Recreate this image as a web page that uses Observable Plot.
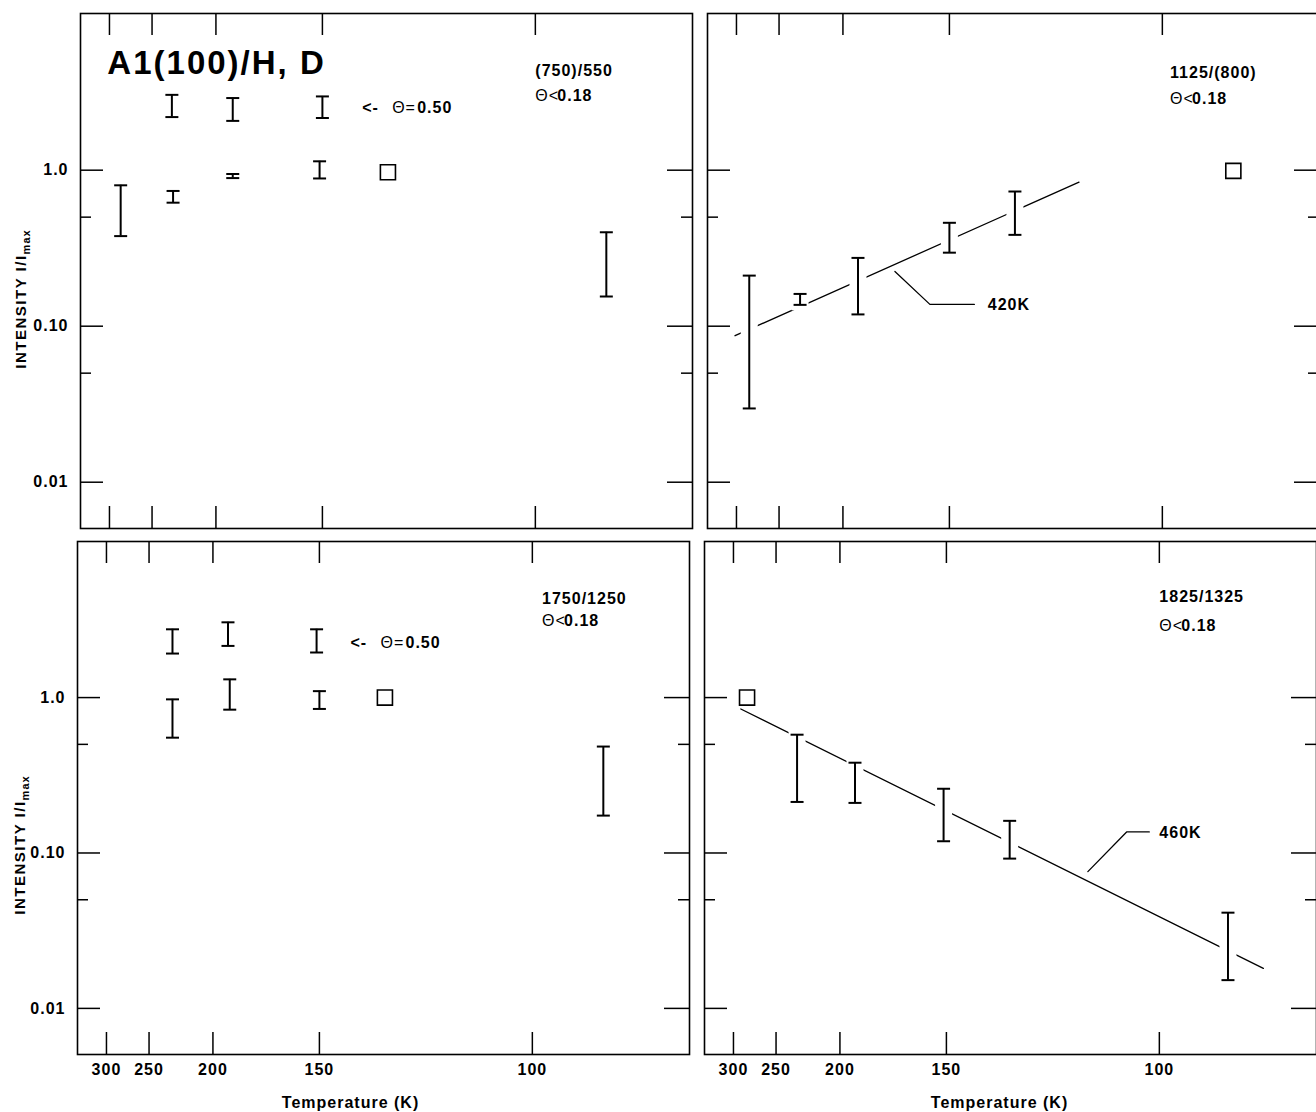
<!DOCTYPE html>
<html><head><meta charset="utf-8">
<script src="https://cdn.jsdelivr.net/npm/d3@7"></script>
<script src="https://cdn.jsdelivr.net/npm/@observablehq/plot@0.6"></script>
<style>
html,body{margin:0;padding:0;background:#fff;overflow:hidden;}
#fig{position:relative;width:1330px;height:1112px;background:#fff;}
#fig svg text{letter-spacing:1px;}
.ylab{position:absolute;transform:translate(-50%,-50%) rotate(-90deg);white-space:nowrap;font:bold 15px "Liberation Sans",Arial,sans-serif;letter-spacing:1.5px;color:#000;}
.ylab sub{font-size:11px;letter-spacing:1px;vertical-align:-4px;}
</style></head><body><div id="fig"></div>
<script>
// ---------- axes ----------
const xTicksK = [300, 250, 200, 150, 100];
const xTickLabels = ["300", "250", "200", "150", "100"];
const yMajor = [1, 0.1, 0.01];
const yMajorLabels = ["1.0", "0.10", "0.01"];
const yMinor = [0.5, 0.05];
const xTitle = "Temperature (K)";

// ---------- panel (750)/550 ----------
const a_theta050 = [{T:232, lo:2.19, hi:3.04}, {T:190, lo:2.07, hi:2.90}, {T:150, lo:2.16, hi:2.97}];
const a_theta018 = [{T:285, lo:0.378, hi:0.80}, {T:231, lo:0.619, hi:0.736}, {T:190, lo:0.89, hi:0.945}, {T:151, lo:0.885, hi:1.14}, {T:90, lo:0.155, hi:0.40}];
const a_ref = [{T:130, I:0.97}];
const a_title = [{T:303, I:4.84, text:"A1(100)/H, D"}];
const a_label = [{T:100, I:4.35, text:"(750)/550"}];
const a_cond = [{T:100, I:3.01}];
const a_arrow = [{T:137.2, I:2.52}];

// ---------- panel 1125/(800) ----------
const b_theta018 = [{T:283, lo:0.0297, hi:0.211}, {T:231, lo:0.137, hi:0.161}, {T:191, lo:0.119, hi:0.274}, {T:150, lo:0.296, hi:0.46}, {T:130, lo:0.385, hi:0.73}];
const b_ref = [{T:90, I:0.99}];
const b_fit = [{T:302, I:0.0869}, {T:115, I:0.838}];
const b_leader = [{T:172, I:0.224}, {T:157.2, I:0.138}, {T:141.7, I:0.138}];
const b_fitLabel = [{T:137.6, I:0.136, text:"420K"}];
const b_label = [{T:98.8, I:4.22, text:"1125/(800)"}];
const b_cond = [{T:98.8, I:2.85}];

// ---------- panel 1750/1250 ----------
const c_theta050 = [{T:229, lo:1.92, hi:2.75}, {T:191, lo:2.15, hi:3.05}, {T:151, lo:1.95, hi:2.75}];
const c_theta018 = [{T:229, lo:0.552, hi:0.974}, {T:190, lo:0.836, hi:1.31}, {T:150, lo:0.845, hi:1.10}, {T:90, lo:0.174, hi:0.484}];
const c_ref = [{T:130, I:1.0}];
const c_label = [{T:98.5, I:4.30, text:"1750/1250"}];
const c_cond = [{T:98.5, I:3.10}];
const c_arrow = [{T:139.8, I:2.26}];

// ---------- panel 1825/1325 ----------
const d_theta018 = [{T:231, lo:0.213, hi:0.577}, {T:191, lo:0.21, hi:0.381}, {T:151, lo:0.119, hi:0.259}, {T:130.6, lo:0.092, hi:0.161}, {T:90.3, lo:0.0152, hi:0.0413}];
const d_ref = [{T:282, I:1.0}];
const d_fit = [{T:290, I:0.844}, {T:86, I:0.0181}];
const d_leader = [{T:112.6, I:0.0759}, {T:105.4, I:0.1366}, {T:101.6, I:0.1366}];
const d_fitLabel = [{T:100, I:0.134, text:"460K"}];
const d_label = [{T:100, I:4.42, text:"1825/1325"}];
const d_cond = [{T:100, I:2.88}];

const condParts = ["\u0398<", "0.18"];
const arrowParts = ["<-", "\u0398=", "0.50"];

// ---------- drawing ----------
const X = d => 1000 / d.T;
const W = 612;
const xDomain = [2.88, 12.46];
const yDomain = [0.00505, 10.1];
const FONT = '"Liberation Sans", Arial, Helvetica, sans-serif';
const capSymbol = {draw(ctx, size) { const w = Math.sqrt(size / Math.PI); ctx.moveTo(-w, 0); ctx.lineTo(w, 0); }};

function makePanel(p) {
  const h = p.h;
  const xt = xTicksK.map(t => 1000 / t);
  const bars = p.bars;
  const marks = [];
  marks.push(Plot.frame({stroke: "black", strokeWidth: 1.6}));
  marks.push(Plot.tickX(xt, {x: d => d, insetBottom: h - 22, strokeWidth: 1.5}));
  marks.push(Plot.tickX(xt, {x: d => d, insetTop: h - 22, strokeWidth: 1.5}));
  marks.push(Plot.tickY(yMajor, {y: d => d, insetRight: W - 23, strokeWidth: 1.5}));
  marks.push(Plot.tickY(yMajor, {y: d => d, insetLeft: W - 25, strokeWidth: 1.5}));
  marks.push(Plot.tickY(yMinor, {y: d => d, insetRight: W - 11, strokeWidth: 1.5}));
  marks.push(Plot.tickY(yMinor, {y: d => d, insetLeft: W - 11, strokeWidth: 1.5}));
  if (p.fit) {
    marks.push(Plot.line(p.fit, {x: X, y: "I", stroke: "black", strokeWidth: 1.3}));
    marks.push(Plot.ruleX(bars, {x: X, y1: "hi", y2: "lo", stroke: "white", strokeWidth: 17, insetTop: -6, insetBottom: -6}));
    marks.push(Plot.line(p.leader, {x: X, y: "I", stroke: "black", strokeWidth: 1.3}));
    marks.push(Plot.text(p.fitLabel, {x: X, y: "I", text: "text", textAnchor: "start", lineAnchor: "middle", fontSize: 16, fontWeight: "bold"}));
  }
  marks.push(Plot.ruleX(bars, {x: X, y1: "lo", y2: "hi", stroke: "black", strokeWidth: 2}));
  marks.push(Plot.dot(bars, {x: X, y: "lo", symbol: capSymbol, r: 6.5, stroke: "black", strokeWidth: 2, fill: "none"}));
  marks.push(Plot.dot(bars, {x: X, y: "hi", symbol: capSymbol, r: 6.5, stroke: "black", strokeWidth: 2, fill: "none"}));
  marks.push(Plot.dot(p.ref, {x: X, y: "I", symbol: "square", r: 8.5, stroke: "black", strokeWidth: 1.6, fill: "white"}));
  if (p.title) marks.push(Plot.text(p.title, {x: X, y: "I", text: "text", textAnchor: "start", lineAnchor: "middle", fontSize: 33, fontWeight: "bold"}));
  marks.push(Plot.text(p.label, {x: X, y: "I", text: "text", textAnchor: "start", lineAnchor: "middle", fontSize: 16, fontWeight: "bold"}));
  marks.push(Plot.text(p.cond, {x: X, y: "I", text: () => condParts[0], textAnchor: "start", lineAnchor: "middle", fontSize: 16, fontWeight: "normal"}));
  marks.push(Plot.text(p.cond, {x: X, y: "I", text: () => condParts[1], dx: 22, textAnchor: "start", lineAnchor: "middle", fontSize: 16, fontWeight: "bold"}));
  if (p.arrow) {
    marks.push(Plot.text(p.arrow, {x: X, y: "I", text: () => arrowParts[0], textAnchor: "start", lineAnchor: "middle", fontSize: 16, fontWeight: "bold"}));
    marks.push(Plot.text(p.arrow, {x: X, y: "I", text: () => arrowParts[1], dx: 30, textAnchor: "start", lineAnchor: "middle", fontSize: 16, fontWeight: "normal"}));
    marks.push(Plot.text(p.arrow, {x: X, y: "I", text: () => arrowParts[2], dx: 55, textAnchor: "start", lineAnchor: "middle", fontSize: 16, fontWeight: "bold"}));
  }
  if (p.yLabels) {
    marks.push(Plot.axisY({anchor: "left", ticks: yMajor, tickFormat: d => yMajorLabels[yMajor.indexOf(d)], tickSize: 0, tickPadding: 12, fontSize: 16, fontWeight: "bold", label: null}));
  }
  if (p.xLabels) {
    marks.push(Plot.axisX({anchor: "bottom", ticks: xt, tickFormat: d => xTickLabels[xt.indexOf(d)], tickSize: 0, tickPadding: 9, fontSize: 16, fontWeight: "bold", label: null}));
    marks.push(Plot.text([xTitle], {text: d => d, frameAnchor: "bottom", dy: 48, dx: p.titleDx, lineAnchor: "middle", fontSize: 16, fontWeight: "bold"}));
  }
  const svg = Plot.plot({
    width: p.mL + W + p.mR, height: p.mT + h + p.mB,
    marginLeft: p.mL, marginRight: p.mR, marginTop: p.mT, marginBottom: p.mB,
    x: Object.assign({type: "linear", domain: xDomain}, p.xLabels ? {} : {axis: null}),
    y: Object.assign({type: "log", domain: yDomain}, p.yLabels ? {} : {axis: null}),
    style: {fontFamily: FONT, fontSize: "16px", fontWeight: "bold", background: "transparent", maxWidth: "none", overflow: "visible", color: "black"},
    marks
  });
  svg.style.position = "absolute";
  svg.style.left = p.left + "px";
  svg.style.top = p.top + "px";
  d3.select(svg).selectAll("text").filter(function() { return this.textContent === "A1(100)/H, D"; }).style("letter-spacing", "2px");
  document.getElementById("fig").appendChild(svg);
}

makePanel({h: 515, left: 0, top: 0, mL: 80, mT: 13, mR: 5, mB: 3, yLabels: true, xLabels: false,
  bars: [...a_theta050, ...a_theta018], ref: a_ref, title: a_title, label: a_label, cond: a_cond, arrow: a_arrow});
makePanel({h: 515, left: 699, top: 0, mL: 8, mT: 13, mR: 10, mB: 3, yLabels: false, xLabels: false,
  bars: b_theta018, ref: b_ref, fit: b_fit, leader: b_leader, fitLabel: b_fitLabel, label: b_label, cond: b_cond});
makePanel({h: 513, left: 0, top: 531, mL: 77, mT: 10, mR: 5, mB: 58, yLabels: true, xLabels: true, titleDx: -33,
  bars: [...c_theta050, ...c_theta018], ref: c_ref, label: c_label, cond: c_cond, arrow: c_arrow});
makePanel({h: 513, left: 696, top: 531, mL: 8, mT: 10, mR: 10, mB: 58, yLabels: false, xLabels: true, titleDx: -11,
  bars: d_theta018, ref: d_ref, fit: d_fit, leader: d_leader, fitLabel: d_fitLabel, label: d_label, cond: d_cond});

// y-axis titles (with subscript)
[[22, 299], [21, 845]].forEach(([x, y]) => {
  const div = document.createElement("div");
  div.className = "ylab";
  div.style.left = x + "px";
  div.style.top = y + "px";
  div.innerHTML = "INTENSITY I/I<sub>max</sub>";
  document.getElementById("fig").appendChild(div);
});
</script></body></html>
